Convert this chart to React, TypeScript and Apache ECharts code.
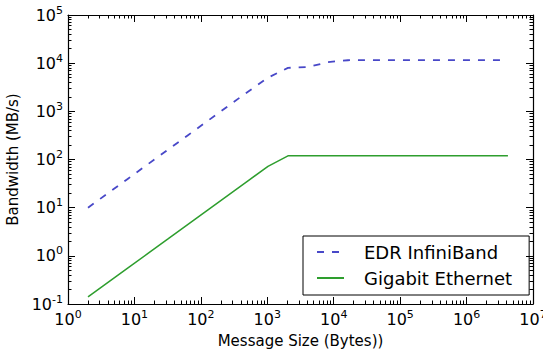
import React, { useEffect, useRef } from "react";
import * as echarts from "echarts";

const messageSizes = [2, 4, 8, 16, 32, 64, 128, 256, 512, 1024, 2048, 4096, 8192, 16384, 32768, 65536, 131072, 262144, 524288, 1048576, 2097152, 4194304];
const edrInfiniBand = [10, 20, 40, 80, 160, 320, 640, 1280, 2560, 5000, 8000, 8300, 10500, 11500, 11600, 11600, 11600, 11600, 11600, 11600, 11600, 11600];
const gigabitEthernet = [0.14, 0.28, 0.56, 1.12, 2.24, 4.5, 9, 18, 36, 72, 119, 119, 119, 119, 119, 119, 119, 119, 119, 119, 119, 119];

const FONT = "DejaVu Sans";

const supLabel = (v: number) => {
  const e = Math.round(Math.log10(v));
  return `{b|10}{s|${e}}`;
};
const rich = {
  b: { fontSize: 16, fontFamily: FONT, color: "#000" },
  s: { fontSize: 11, fontFamily: FONT, color: "#000", padding: [0, 0, 10, 0] },
};

export default function App() {
  const ref = useRef<HTMLDivElement>(null);
  useEffect(() => {
    const chart = echarts.init(ref.current!, null, { renderer: "svg" });
    const tickCommon = {
      axisLine: { show: true, onZero: false, lineStyle: { color: "#000", width: 1.2 } },
      axisTick: { show: true, inside: true, length: 7, lineStyle: { color: "#000", width: 1 } },
      minorTick: { show: true, splitNumber: 9, length: 3.5, lineStyle: { color: "#000", width: 1 } },
      splitLine: { show: false },
      minorSplitLine: { show: false },
    };
    chart.setOption({
      animation: false,
      grid: { left: 68, right: 10, top: 15, bottom: 48, outerBoundsMode: "none", containLabel: false },
      xAxis: [
        {
          type: "log", logBase: 10, min: 1, max: 1e7, position: "bottom",
          ...tickCommon,
          axisLabel: { formatter: supLabel, rich, margin: 5 },
          name: "Message Size (Bytes))", nameLocation: "middle", nameGap: 29,
          nameTextStyle: { fontFamily: FONT, fontSize: 15, color: "#000" },
        },
        {
          type: "log", logBase: 10, min: 1, max: 1e7, position: "top",
          ...tickCommon,
          axisLabel: { show: false },
        },
      ],
      yAxis: [
        {
          type: "log", logBase: 10, min: 0.1, max: 1e5, position: "left",
          ...tickCommon,
          axisLabel: { formatter: supLabel, rich, margin: 5 },
          name: "Bandwidth (MB/s)", nameLocation: "middle", nameGap: 42,
          nameTextStyle: { fontFamily: FONT, fontSize: 15, color: "#000" },
        },
        {
          type: "log", logBase: 10, min: 0.1, max: 1e5, position: "right",
          ...tickCommon,
          axisLabel: { show: false },
        },
      ],
      legend: {
        left: 303, top: 236, orient: "vertical",
        data: ["EDR InfiniBand", "Gigabit Ethernet"],
        borderColor: "#000", borderWidth: 1, borderRadius: 0,
        padding: [7, 17, 8, 13],
        itemWidth: 27, itemHeight: 18, itemGap: 8,
        itemStyle: { opacity: 0 },
        textStyle: { fontFamily: FONT, fontSize: 18, color: "#000", padding: [0, 0, 0, 15] },
      },
      series: [
        {
          name: "EDR InfiniBand", type: "line", symbol: "none",
          data: messageSizes.map((x, i) => [x, edrInfiniBand[i]]),
          lineStyle: { color: "#4848c8", width: 1.8, type: [7, 8] },
          itemStyle: { color: "#4848c8" },
        },
        {
          name: "Gigabit Ethernet", type: "line", symbol: "none",
          data: messageSizes.map((x, i) => [x, gigabitEthernet[i]]),
          lineStyle: { color: "#2e9e2e", width: 1.5 },
          itemStyle: { color: "#2e9e2e" },
        },
      ],
    });
    return () => chart.dispose();
  }, []);
  return <div ref={ref} style={{ width: 543, height: 352, position: "absolute", left: 0, top: 0, background: "#fff" }} />;
}
